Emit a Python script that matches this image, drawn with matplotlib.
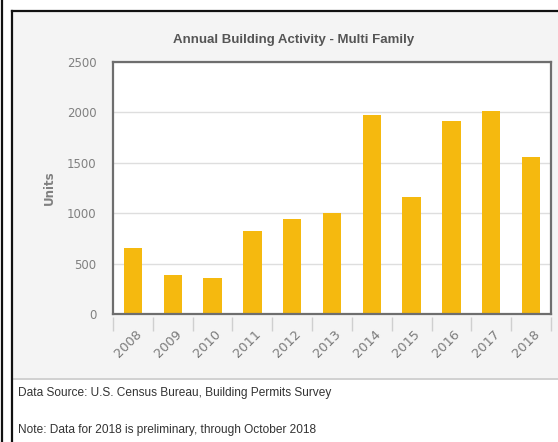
import matplotlib
matplotlib.use("Agg")
import matplotlib.pyplot as plt
import matplotlib.transforms as mtransforms
from matplotlib.patches import Rectangle
from matplotlib.lines import Line2D
import numpy as np

# Annual multi-family building permits
years = ["2008", "2009", "2010", "2011", "2012", "2013",
         "2014", "2015", "2016", "2017", "2018"]
units = [655, 387, 360, 823, 946, 1005, 1974, 1164, 1911, 2011, 1561]
y_ticks = [0, 500, 1000, 1500, 2000, 2500]

title = "Annual Building Activity - Multi Family"
source_note = "Data Source: U.S. Census Bureau, Building Permits Survey"
prelim_note = "Note: Data for 2018 is preliminary, through October 2018"

W, H = 558, 442
fig = plt.figure(figsize=(W / 100, H / 100), dpi=100)
fig.patch.set_facecolor("white")


def fx(px):
    return px / W


def fy(py):
    return 1 - py / H


# panel background and frame
fig.add_artist(Rectangle((fx(12), fy(378)), fx(W - 12), fy(12) - fy(378),
                         transform=fig.transFigure, facecolor="#f4f4f4",
                         edgecolor="none", zorder=0))
fig.add_artist(Line2D([fx(12), fx(W)], [fy(378.5), fy(378.5)],
                      transform=fig.transFigure, color="#c8c8c8", lw=1.2))
fig.add_artist(Line2D([fx(11.5), fx(11.5)], [fy(10.5), 0],
                      transform=fig.transFigure, color="#111111", lw=1.6))
fig.add_artist(Line2D([fx(11.5), fx(W)], [fy(10.8), fy(10.8)],
                      transform=fig.transFigure, color="#111111", lw=1.6))
fig.add_artist(Line2D([fx(1.5), fx(1.5)], [1, 0],
                      transform=fig.transFigure, color="#111111", lw=1.6))

ax = fig.add_axes([fx(113), fy(314), fx(551) - fx(113), fy(62) - fy(314)])
ax.set_facecolor("white")

x = np.arange(len(years))
ax.bar(x, units, width=0.46, color="#f5b90f", zorder=3)

ax.set_xlim(-0.5, len(years) - 0.5)
ax.set_ylim(0, 2500)
ax.set_yticks(y_ticks)
ax.set_yticklabels([str(v) for v in y_ticks], color="#808080", fontsize=8.5,
                   family="DejaVu Sans")
ax.tick_params(axis="y", length=0, pad=12)
ax.yaxis.grid(True, color="#dedede", lw=1, zorder=0)

ax.set_xticks(x)
ax.set_xticklabels(years, rotation=45, color="#7a7a7a", fontsize=9.3,
                   family="DejaVu Sans", ha="center")
ax.tick_params(axis="x", length=0, pad=10)
shift = mtransforms.ScaledTranslation(-5 / 100, 0, fig.dpi_scale_trans)
for lbl in ax.get_xticklabels():
    lbl.set_transform(lbl.get_transform() + shift)

for s in ax.spines.values():
    s.set_color("#6e6e6e")
    s.set_linewidth(1.6)
    s.set_zorder(5)

# category separators below the axis
sec = ax.secondary_xaxis(-0.012)
sec.set_xticks(np.arange(len(years) + 1) - 0.5)
sec.set_xticklabels([])
sec.tick_params(axis="x", length=10, width=1, color="#cfcfcf")
for s in sec.spines.values():
    s.set_visible(False)

ax.set_ylabel("Units", color="#808080", fontsize=8.5, fontweight="bold",
              family="DejaVu Sans", labelpad=8)

fig.text(fx(294), fy(40), title, ha="center", va="center",
         fontsize=9.5, fontweight="bold", color="#555555",
         family=["Liberation Sans Narrow", "Liberation Sans", "DejaVu Sans"])

fig.text(fx(18), fy(393), source_note, ha="left", va="center",
         fontsize=8.6, color="#333333", family="Liberation Sans")
fig.text(fx(18), fy(430), prelim_note, ha="left", va="center",
         fontsize=8.6, color="#333333", family="Liberation Sans")

fig.savefig("out.png", dpi=100)
